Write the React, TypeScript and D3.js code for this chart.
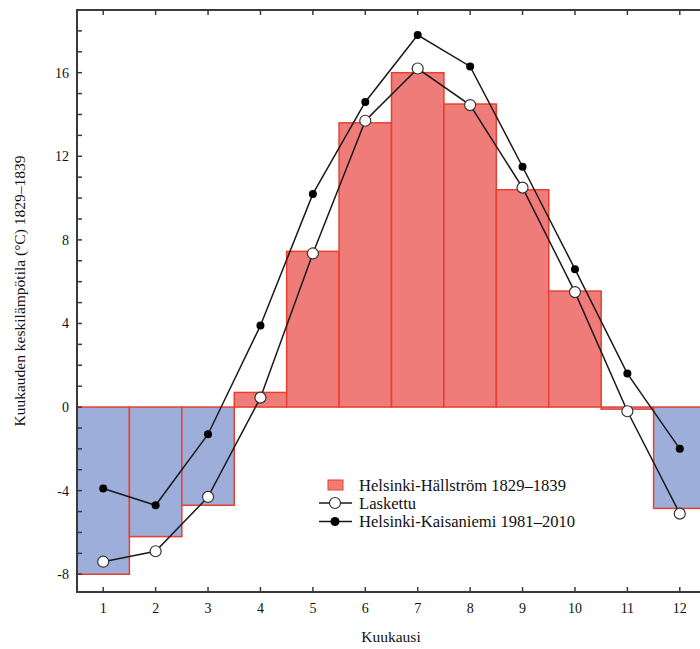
import * as d3 from 'd3'

const months = [1, 2, 3, 4, 5, 6, 7, 8, 9, 10, 11, 12]
// Helsinki-Hällström 1829–1839 (bars)
const hallstrom = [-8.0, -6.2, -4.7, 0.7, 7.45, 13.6, 16.0, 14.5, 10.4, 5.55, -0.1, -4.85]
// Laskettu (open circles)
const laskettu = [-7.4, -6.9, -4.3, 0.45, 7.35, 13.7, 16.2, 14.45, 10.5, 5.5, -0.2, -5.1]
// Helsinki-Kaisaniemi 1981–2010 (filled circles)
const kaisaniemi = [-3.9, -4.7, -1.3, 3.9, 10.2, 14.6, 17.8, 16.3, 11.5, 6.6, 1.6, -2.0]
const yTicks = [-8, -4, 0, 4, 8, 12, 16]
const legendLabels = ['Helsinki-Hällström 1829–1839', 'Laskettu', 'Helsinki-Kaisaniemi 1981–2010']

const W = 700
const H = 649
const FONT = '"Liberation Serif", "DejaVu Serif", serif'

export default function App() {
    const x = d3.scaleLinear().domain([0.5, 12.5]).range([77, 706])
    const y = d3.scaleLinear().domain([-8.85, 19]).range([592, 10])
    const minor = d3.range(-8, 19, 1)

    const line = d3
        .line<number>()
        .x((d, i) => x(months[i]))
        .y((d) => y(d))

    const axisColor = '#3a3a3a'
    const red = '#e8402f'

    return (
        <svg
            width={W}
            height={H}
            style={{ position: 'absolute', left: 0, top: 0, display: 'block' }}
            fontFamily={FONT}
        >
            <rect width={W} height={H} fill="#fff" />

            {/* bars */}
            {hallstrom.map((v, i) => (
                <rect
                    key={'b' + i}
                    x={x(months[i] - 0.5)}
                    y={y(Math.max(0, v))}
                    width={x(months[i] + 0.5) - x(months[i] - 0.5)}
                    height={Math.abs(y(v) - y(0))}
                    fill={v >= 0 ? '#ef7c79' : '#9eaedb'}
                    stroke={red}
                    strokeWidth={1.5}
                />
            ))}

            {/* lines */}
            <path d={line(kaisaniemi) || ''} fill="none" stroke="#1a1a1a" strokeWidth={1.5} />
            <path d={line(laskettu) || ''} fill="none" stroke="#1a1a1a" strokeWidth={1.5} />
            {kaisaniemi.map((v, i) => (
                <circle key={'k' + i} cx={x(months[i])} cy={y(v)} r={4} fill="#000" />
            ))}
            {laskettu.map((v, i) => (
                <circle
                    key={'l' + i}
                    cx={x(months[i])}
                    cy={y(v)}
                    r={5.5}
                    fill="#fff"
                    stroke="#333"
                    strokeWidth={1.2}
                />
            ))}

            {/* frame */}
            <rect
                x={x(0.5)}
                y={y(19)}
                width={x(12.5) - x(0.5)}
                height={y(-8.85) - y(19)}
                fill="none"
                stroke={axisColor}
                strokeWidth={2}
            />

            {/* y ticks */}
            {minor.map((t) => (
                <line
                    key={'yt' + t}
                    x1={x(0.5)}
                    x2={x(0.5) + 5}
                    y1={y(t)}
                    y2={y(t)}
                    stroke={axisColor}
                    strokeWidth={1.5}
                />
            ))}
            {yTicks.map((t) => (
                <text
                    key={'yl' + t}
                    x={x(0.5) - 8}
                    y={y(t)}
                    dy="0.35em"
                    textAnchor="end"
                    fontSize={14}
                    fill="#111"
                >
                    {t}
                </text>
            ))}

            {/* x ticks */}
            {months.map((m) => (
                <g key={'xt' + m}>
                    <line x1={x(m)} x2={x(m)} y1={y(-8.85)} y2={y(-8.85) - 5} stroke={axisColor} strokeWidth={1.5} />
                    <line x1={x(m)} x2={x(m)} y1={y(19)} y2={y(19) + 5} stroke={axisColor} strokeWidth={1.5} />
                    <text x={x(m)} y={613} textAnchor="middle" fontSize={14} fill="#111">
                        {m}
                    </text>
                </g>
            ))}

            {/* axis titles */}
            <text x={391} y={642} textAnchor="middle" fontSize={15.5} fill="#111">
                Kuukausi
            </text>
            <text
                transform="translate(25,291) rotate(-90)"
                textAnchor="middle"
                fontSize={15.5}
                fill="#111"
            >
                Kuukauden keskilämpötila (°C) 1829–1839
            </text>

            {/* legend */}
            <g>
                <rect x={328} y={480} width={15} height={10} fill="#ef7c79" stroke={red} strokeWidth={1} />
                <text x={359} y={485} dy="0.35em" fontSize={16.6} fill="#111">
                    {legendLabels[0]}
                </text>
                <line x1={319} x2={352} y1={503} y2={503} stroke="#1a1a1a" strokeWidth={1.5} />
                <circle cx={335} cy={503} r={5.5} fill="#fff" stroke="#333" strokeWidth={1.2} />
                <text x={359} y={503} dy="0.35em" fontSize={16.6} fill="#111">
                    {legendLabels[1]}
                </text>
                <line x1={319} x2={352} y1={521.5} y2={521.5} stroke="#1a1a1a" strokeWidth={1.5} />
                <circle cx={335} cy={521.5} r={4.5} fill="#000" />
                <text x={359} y={521.5} dy="0.35em" fontSize={16.6} fill="#111">
                    {legendLabels[2]}
                </text>
            </g>
        </svg>
    )
}
